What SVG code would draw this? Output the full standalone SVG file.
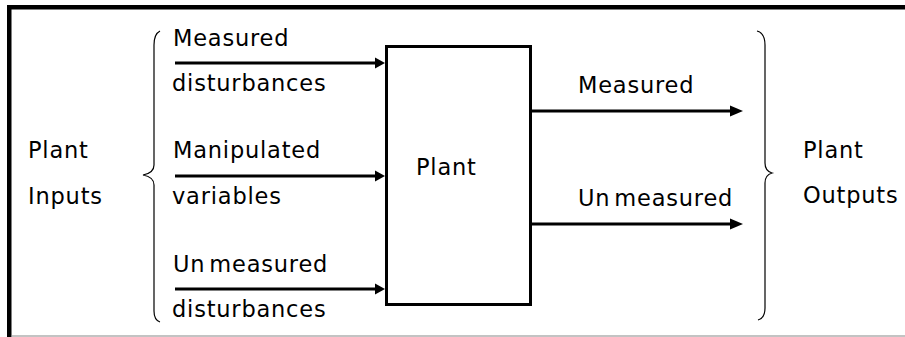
<svg xmlns="http://www.w3.org/2000/svg" width="905" height="337" viewBox="0 0 905 337">
<style>
text{font-family:"DejaVu Sans",Verdana,sans-serif;font-size:22.5px;fill:#000;letter-spacing:0.8px}
.ln{stroke:#000;stroke-width:3;fill:none}
.br{stroke:#000;stroke-width:1.2;fill:none}
.ah{fill:#000}
</style>
<rect width="905" height="337" fill="#fff"/>
<g id="frame">
<rect x="7" y="5" width="898" height="4.5" fill="#000"/>
<rect x="7" y="5" width="4.5" height="332" fill="#000"/>
<line x1="11" y1="336" x2="905" y2="336" stroke="#888" stroke-width="1.2"/>
</g>
<g id="plant">
<rect x="386.5" y="46.5" width="144" height="258" class="ln"/>
<text x="416" y="175">Plant</text>
</g>
<g id="inputs-label">
<text x="28" y="158">Plant</text>
<text x="28" y="204">Inputs</text>
<path class="br" d="M160,31 Q154,34 154,45 L154,165 Q154,173 143,175 Q154,177 154,185 L154,311 Q154,320 160,322"/>
</g>
<g id="outputs-label">
<text x="803" y="158">Plant</text>
<text x="803" y="203">Outputs</text>
<path class="br" d="M757,31 Q765,33 765,45 L765,163 Q765,171 772,173 Q765,175 765,183 L765,308 Q765,318 758,320"/>
</g>
<g id="in-measured">
<text x="173" y="46">Measured</text>
<text x="172" y="91">disturbances</text>
</g>
<g id="in-manipulated">
<text x="173" y="158">Manipulated</text>
<text x="172" y="204">variables</text>
</g>
<g id="in-unmeasured">
<text x="173" y="272">Un<tspan dx="4">measured</tspan></text>
<text x="172" y="317">disturbances</text>
</g>
<g id="out-measured">
<text x="578" y="93">Measured</text>
</g>
<g id="out-unmeasured">
<text x="578" y="206">Un<tspan dx="4">measured</tspan></text>
</g>
<g id="connectors">
<line class="ln" x1="175" y1="63" x2="378" y2="63"/>
<polygon class="ah" points="375,57.5 385,63 375,68.5"/>
<line class="ln" x1="175" y1="176" x2="378" y2="176"/>
<polygon class="ah" points="375,170.5 385,176 375,181.5"/>
<line class="ln" x1="175" y1="289" x2="378" y2="289"/>
<polygon class="ah" points="375,283.5 385,289 375,294.5"/>
<line class="ln" x1="530" y1="111" x2="733" y2="111"/>
<polygon class="ah" points="730,105.5 743,111 730,116.5"/>
<line class="ln" x1="530" y1="224" x2="733" y2="224"/>
<polygon class="ah" points="730,218.5 743,224 730,229.5"/>
</g>
</svg>
